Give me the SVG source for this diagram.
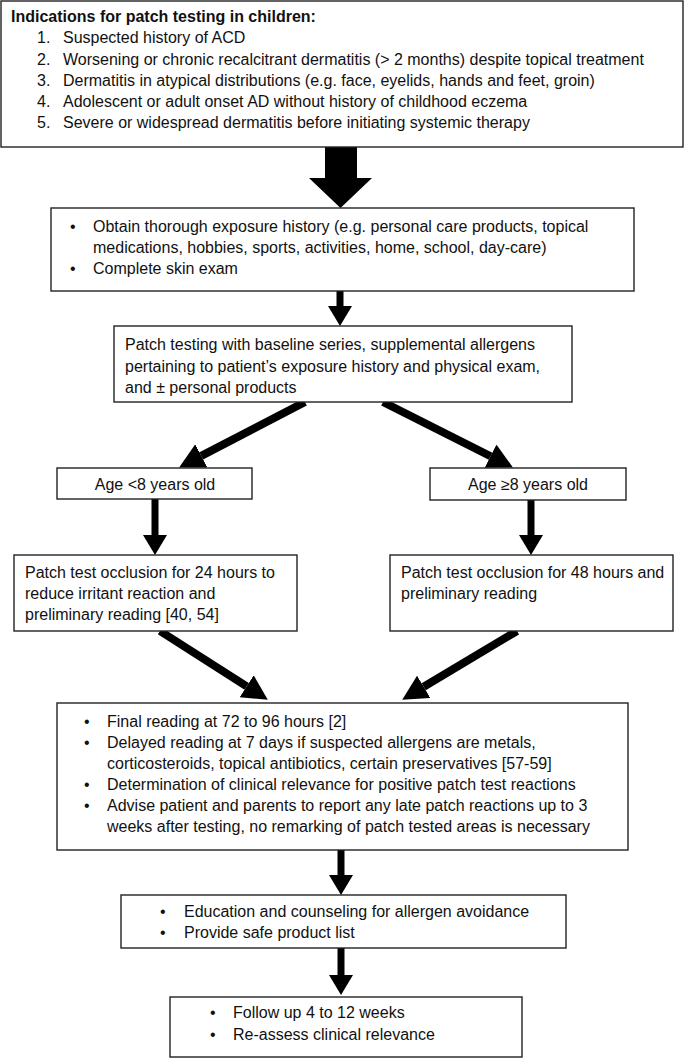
<svg xmlns="http://www.w3.org/2000/svg" width="685" height="1058" viewBox="0 0 685 1058">
<style>
.box{fill:#fff;stroke:#222;stroke-width:1.4}
text{font-family:"Liberation Sans",Arial,sans-serif;font-size:16px;fill:#111}
.b{font-weight:bold}
.c{text-anchor:middle}
.sh{stroke:#000;stroke-width:8;fill:none}
.sv{stroke:#000;stroke-width:7;fill:none}
</style>
<defs>
<marker id="hd" markerUnits="userSpaceOnUse" markerWidth="26" markerHeight="28" refX="0" refY="13" orient="auto" viewBox="0 0 26 28">
<path d="M0,0 L25,13 L0,26 z" fill="#000"/>
</marker>
<marker id="hv" markerUnits="userSpaceOnUse" markerWidth="22" markerHeight="26" refX="0" refY="12" orient="auto" viewBox="0 0 22 26">
<path d="M0,0 L20,12 L0,24 z" fill="#000"/>
</marker>
</defs>
<rect width="685" height="1058" fill="#fff"/>

<g id="connectors">
<polygon points="325,147 357,147 357,178 372,178 340.5,208 309,178 325,178" fill="#000"/>
<line class="sv" x1="340" y1="291" x2="340" y2="306" marker-end="url(#hv)"/>
<line class="sh" x1="305" y1="402" x2="201.3" y2="455.9" marker-end="url(#hd)"/>
<line class="sh" x1="383" y1="402" x2="490.6" y2="456.2" marker-end="url(#hd)"/>
<line class="sv" x1="155" y1="499" x2="155" y2="535" marker-end="url(#hv)"/>
<line class="sv" x1="531" y1="500" x2="531" y2="535" marker-end="url(#hv)"/>
<line class="sh" x1="160" y1="631" x2="246.7" y2="686.3" marker-end="url(#hd)"/>
<line class="sh" x1="517" y1="631" x2="423.7" y2="686.8" marker-end="url(#hd)"/>
<line class="sv" x1="341" y1="850" x2="341" y2="875" marker-end="url(#hv)"/>
<line class="sv" x1="341" y1="948" x2="341" y2="975" marker-end="url(#hv)"/>
</g>

<g id="indications">
<rect class="box" x="1" y="1" width="682" height="146"/>
<text class="b" x="11" y="22">Indications for patch testing in children:</text>
<text x="37" y="43">1.</text><text x="63" y="43">Suspected history of ACD</text>
<text x="37" y="65">2.</text><text x="63" y="65">Worsening or chronic recalcitrant dermatitis (&gt; 2 months) despite topical treatment</text>
<text x="37" y="86">3.</text><text x="63" y="86">Dermatitis in atypical distributions (e.g. face, eyelids, hands and feet, groin)</text>
<text x="37" y="107">4.</text><text x="63" y="107">Adolescent or adult onset AD without history of childhood eczema</text>
<text x="37" y="128">5.</text><text x="63" y="128">Severe or widespread dermatitis before initiating systemic therapy</text>
</g>

<g id="history">
<rect class="box" x="51" y="208" width="583" height="83"/>
<text x="70" y="232">•</text><text x="93" y="232">Obtain thorough exposure history (e.g. personal care products, topical</text>
<text x="93" y="253">medications, hobbies, sports, activities, home, school, day-care)</text>
<text x="70" y="274">•</text><text x="93" y="274">Complete skin exam</text>
</g>

<g id="patchtesting">
<rect class="box" x="114" y="326" width="458" height="76"/>
<text x="125" y="350">Patch testing with baseline series, supplemental allergens</text>
<text x="125" y="372">pertaining to patient’s exposure history and physical exam,</text>
<text x="125" y="393">and ± personal products</text>
</g>

<g id="age-under8">
<rect class="box" x="57" y="468" width="195" height="31"/>
<text class="c" x="155" y="490">Age &lt;8 years old</text>
</g>

<g id="age-over8">
<rect class="box" x="430" y="468" width="196" height="32"/>
<text class="c" x="528" y="490">Age ≥8 years old</text>
</g>

<g id="occlusion24">
<rect class="box" x="14" y="555" width="283" height="76"/>
<text x="25" y="578">Patch test occlusion for 24 hours to</text>
<text x="25" y="599">reduce irritant reaction and</text>
<text x="25" y="620">preliminary reading [40, 54]</text>
</g>

<g id="occlusion48">
<rect class="box" x="390" y="555" width="283" height="76"/>
<text x="401" y="578">Patch test occlusion for 48 hours and</text>
<text x="401" y="599">preliminary reading</text>
</g>

<g id="final-reading">
<rect class="box" x="57" y="703" width="571" height="147"/>
<text x="84" y="727">•</text><text x="107" y="727">Final reading at 72 to 96 hours [2]</text>
<text x="84" y="748">•</text><text x="107" y="748">Delayed reading at 7 days if suspected allergens are metals,</text>
<text x="107" y="769">corticosteroids, topical antibiotics, certain preservatives [57-59]</text>
<text x="84" y="790">•</text><text x="107" y="790">Determination of clinical relevance for positive patch test reactions</text>
<text x="84" y="811">•</text><text x="107" y="811">Advise patient and parents to report any late patch reactions up to 3</text>
<text x="107" y="832">weeks after testing, no remarking of patch tested areas is necessary</text>
</g>

<g id="education">
<rect class="box" x="121" y="895" width="445" height="53"/>
<text x="160" y="917">•</text><text x="184" y="917">Education and counseling for allergen avoidance</text>
<text x="160" y="938">•</text><text x="184" y="938">Provide safe product list</text>
</g>

<g id="followup">
<rect class="box" x="170" y="997" width="352" height="60"/>
<text x="210" y="1018">•</text><text x="233" y="1018">Follow up 4 to 12 weeks</text>
<text x="210" y="1040">•</text><text x="233" y="1040">Re-assess clinical relevance</text>
</g>
</svg>
